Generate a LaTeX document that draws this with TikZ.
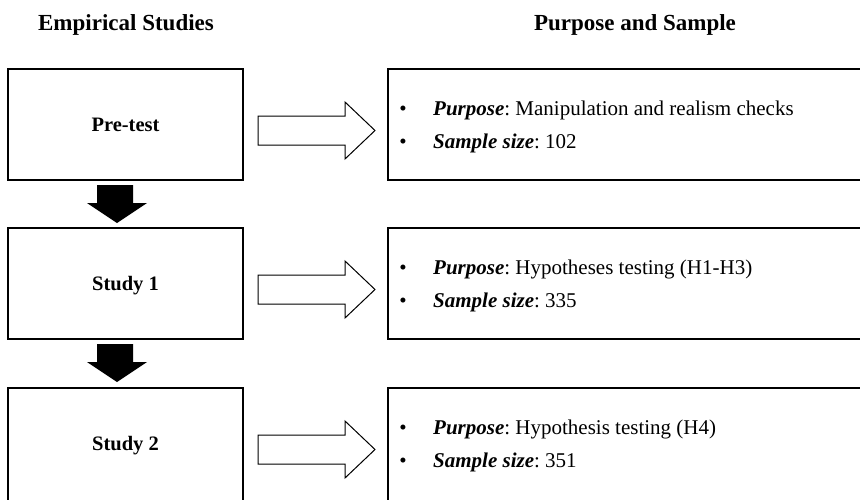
\documentclass[tikz,border=0pt]{standalone}
\usepackage{fontspec}
\setmainfont{Liberation Serif}
\frenchspacing
\newcommand{\bi}[1]{{\bfseries\itshape #1}}
\begin{document}
\begin{tikzpicture}[x=1pt,y={(0pt,-1pt)},
  lbox/.style={draw=black, line width=1.1pt, minimum width=235pt, minimum height=111pt, inner sep=0pt,
    text height=14pt, text depth=0pt, font=\fontsize{20.5}{24}\selectfont\bfseries},
  rbox/.style={draw=black, line width=1.1pt, minimum width=500pt, minimum height=111pt, inner sep=0pt},
  head/.style={anchor=base, inner sep=0pt, font=\fontsize{23}{27}\selectfont\bfseries},
  bul/.style={anchor=base, inner sep=0pt, font=\fontsize{21}{25}\selectfont},
  txt/.style={anchor=base west, inner sep=0pt, font=\fontsize{21}{25}\selectfont},
  harrow/.style={draw=black, line width=1pt, fill=white, line join=miter},
  barrow/.style={fill=black, draw=none}
]
\useasboundingbox (0,0) rectangle (860,499);
\clip (0,0) rectangle (860,499);

% headings
\node[head] (h1) at (126,30) {Empirical Studies};
\node[head] (h2) at (635,30) {Purpose and Sample};

% left boxes
\node[lbox] (b1) at (125.5,124.5) {Pre-test};
\node[lbox] (b2) at (125.5,283.5) {Study 1};
\node[lbox, minimum height=122pt, text depth=11pt] (b3) at (125.5,449) {Study 2};

% right boxes
\node[rbox] (r1) at (638,124.5) {};
\node[rbox] (r2) at (638,283.5) {};
\node[rbox, minimum height=122pt] (r3) at (638,449) {};

% bullet texts row 1
\node[bul] (d11) at (403,115) {•};
\node[txt] (t11) at (433,115) {\bi{Purpose}: Manipulation and realism checks};
\node[bul] (d12) at (403,148) {•};
\node[txt] (t12) at (433,148) {\bi{Sample size}: 102};
% row 2
\node[bul] (d21) at (403,274) {•};
\node[txt] (t21) at (433,274) {\bi{Purpose}: Hypotheses testing (H1-H3)};
\node[bul] (d22) at (403,307) {•};
\node[txt] (t22) at (433,307) {\bi{Sample size}: 335};
% row 3
\node[bul] (d31) at (403,434) {•};
\node[txt] (t31) at (433,434) {\bi{Purpose}: Hypothesis testing (H4)};
\node[bul] (d32) at (403,467) {•};
\node[txt] (t32) at (433,467) {\bi{Sample size}: 351};

% hollow arrows
\foreach \T in {69,228,388}{
  \draw[harrow] (258,\T+47) -- (345,\T+47) -- (345,\T+33) -- (375,\T+61.5)
     -- (345,\T+90) -- (345,\T+76) -- (258,\T+76) -- cycle;
}

% black down arrows
\foreach \B in {180,339}{
  \fill[barrow] (97,\B+5) -- (133,\B+5) -- (133,\B+23) -- (147,\B+23) -- (117,\B+43)
     -- (87,\B+23) -- (97,\B+23) -- cycle;
}
\end{tikzpicture}
\end{document}
